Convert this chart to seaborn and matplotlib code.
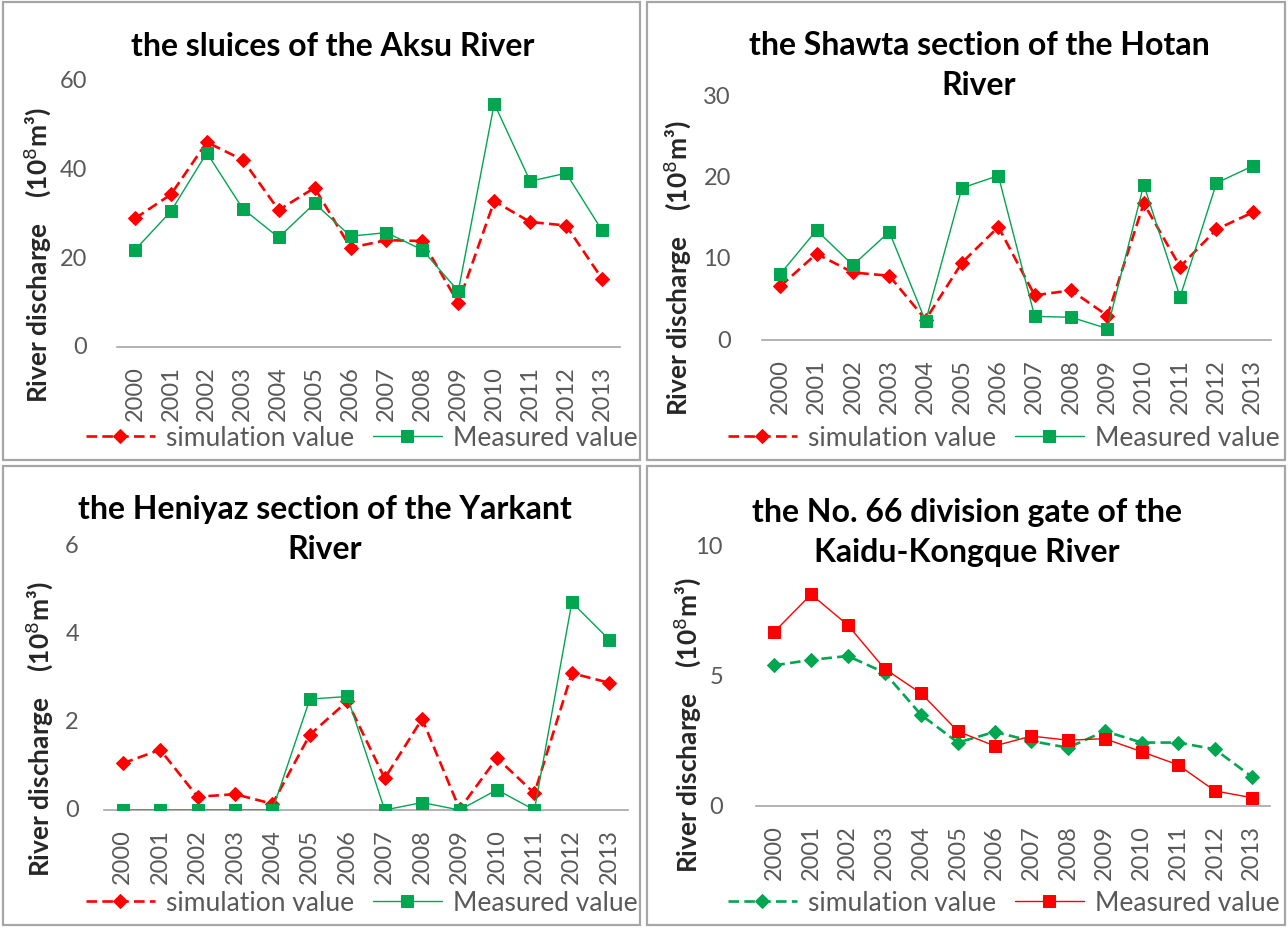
"""Simulated vs measured river discharge, four hydrological stations."""
import matplotlib
matplotlib.use("Agg")
import matplotlib.pyplot as plt
from matplotlib.patches import Rectangle
import seaborn as sns
import pandas as pd

sns.set_style("white")
plt.rcParams['font.family'] = ['Lato', 'DejaVu Sans']

years = list(range(2000, 2014))

# the sluices of the Aksu River
aksu_sim = [29.0, 34.4, 46.2, 42.2, 30.9, 35.9, 22.4, 24.1, 23.9, 9.9, 32.9, 28.2, 27.4, 15.4]
aksu_meas = [21.9, 30.6, 43.8, 31.2, 24.7, 32.4, 25.0, 25.8, 21.9, 12.6, 54.9, 37.4, 39.2, 26.3]

# the Shawta section of the Hotan River
hotan_sim = [6.6, 10.6, 8.3, 7.9, 2.5, 9.5, 13.9, 5.5, 6.1, 3.0, 16.8, 9.0, 13.6, 15.7]
hotan_meas = [8.1, 13.5, 9.2, 13.3, 2.3, 18.7, 20.2, 2.9, 2.8, 1.4, 19.1, 5.3, 19.3, 21.4]

# the Heniyaz section of the Yarkant River
yarkant_sim = [1.06, 1.37, 0.30, 0.36, 0.14, 1.71, 2.47, 0.72, 2.07, 0.02, 1.18, 0.38, 3.11, 2.89]
yarkant_meas = [0, 0, 0, 0, 0, 2.52, 2.58, 0, 0.17, 0, 0.46, 0, 4.72, 3.87]

# the No. 66 division gate of the Kaidu-Kongque River
kaidu_sim = [5.41, 5.62, 5.77, 5.13, 3.50, 2.44, 2.85, 2.50, 2.24, 2.88, 2.44, 2.44, 2.18, 1.13]
kaidu_meas = [6.70, 8.14, 6.96, 5.28, 4.33, 2.87, 2.31, 2.69, 2.53, 2.59, 2.09, 1.58, 0.58, 0.32]

titles = ["the sluices of the Aksu River",
          "the Shawta section of the Hotan\nRiver",
          "the Heniyaz section of the Yarkant\nRiver",
          "the No. 66 division gate of the\nKaidu-Kongque River"]
yticks = [[0, 20, 40, 60], [0, 10, 20, 30], [0, 2, 4, 6], [0, 5, 10]]

RED = "#FF0000"
GREEN = "#00A650"
GREY_TXT = "#595959"
W, H = 1288, 929

# pixel layout per panel:
# frame box, axes x range, axes y range, title centre/top, ylabel x/y, ytick pad, legend centre x
panels = [
    dict(box=(3, 3, 640, 461), ax=(117, 620), ay=(82, 348), title=(333, 32),
         ylab=(37, 255), pad=30, leg=362),
    dict(box=(647, 3, 1285, 461), ax=(762, 1271), ay=(97, 341), title=(979, 31),
         ylab=(677, 268), pad=31, leg=1004),
    dict(box=(3, 467, 640, 926), ax=(104, 628), ay=(547, 811), title=(325, 495),
         ylab=(39, 729), pad=25, leg=362),
    dict(box=(647, 467, 1285, 926), ax=(756, 1270), ay=(547, 807), title=(967, 498),
         ylab=(687, 725), pad=33, leg=1004),
]
series = [(aksu_sim, aksu_meas, RED, GREEN),
          (hotan_sim, hotan_meas, RED, GREEN),
          (yarkant_sim, yarkant_meas, RED, GREEN),
          (kaidu_sim, kaidu_meas, GREEN, RED)]

fig = plt.figure(figsize=(W / 100, H / 100), dpi=100)

for i, p in enumerate(panels):
    sim, meas, c_sim, c_meas = series[i]
    df = pd.DataFrame({"year": years, "sim": sim, "meas": meas})
    bx0, by0, bx1, by1 = p["box"]
    ax0, ax1 = p["ax"]
    yt, yb = p["ay"]

    # panel frame
    fig.patches.append(Rectangle((bx0 / W, 1 - by1 / H), (bx1 - bx0) / W, (by1 - by0) / H,
                                 transform=fig.transFigure, fill=False,
                                 edgecolor="#A6A6A6", linewidth=1.6))

    ax = fig.add_axes([ax0 / W, 1 - yb / H, (ax1 - ax0) / W, (yb - yt) / H])
    sns.lineplot(data=df, x="year", y="sim", ax=ax, color=c_sim, linestyle=(0, (4, 2)),
                 linewidth=1.9, marker="D", markersize=7.5, markeredgecolor=c_sim,
                 label="simulation value", zorder=3)
    sns.lineplot(data=df, x="year", y="meas", ax=ax, color=c_meas, linewidth=1.0,
                 marker="s", markersize=8.5, markeredgecolor=c_meas,
                 label="Measured value", zorder=4)

    ax.set_xlim(1999.5, 2013.5)
    ax.set_ylim(yticks[i][0], yticks[i][-1])
    ax.set_yticks(yticks[i])
    ax.set_xticks(years)
    ax.set_xticklabels([str(y) for y in years], rotation=90)
    ax.tick_params(axis="x", length=0, pad=13, labelsize=17, labelcolor=GREY_TXT)
    ax.tick_params(axis="y", length=0, pad=p["pad"] * 0.72, labelsize=17,
                   labelcolor=GREY_TXT)
    for side in ["top", "right", "left"]:
        ax.spines[side].set_visible(False)
    ax.spines["bottom"].set_color("#A6A6A6")
    ax.spines["bottom"].set_linewidth(1.2)
    ax.set_xlabel("")
    ax.set_ylabel("")
    ax.patch.set_alpha(0)
    for t in ax.get_yticklabels():
        t.set_verticalalignment("center")

    handles, labels = ax.get_legend_handles_labels()
    ax.get_legend().remove()
    fig.legend(handles, labels, loc="center", ncol=2, frameon=False,
               bbox_to_anchor=(p["leg"] / W, 1 - (by1 - 22) / H),
               fontsize=19, labelcolor=GREY_TXT, handlelength=2.6, columnspacing=0.7,
               handletextpad=0.45, borderpad=0, borderaxespad=0)

    tx, ty = p["title"]
    fig.text(tx / W, 1 - ty / H, titles[i], ha="center", va="top",
             fontsize=23, fontweight="bold", linespacing=1.45, color="black")

    lx, ly = p["ylab"]
    fig.text(lx / W, 1 - ly / H, "River discharge    (10$^8$m³)",
             rotation=90, ha="center", va="center", fontsize=19, fontweight="bold")

fig.savefig("out.png", dpi=100)
